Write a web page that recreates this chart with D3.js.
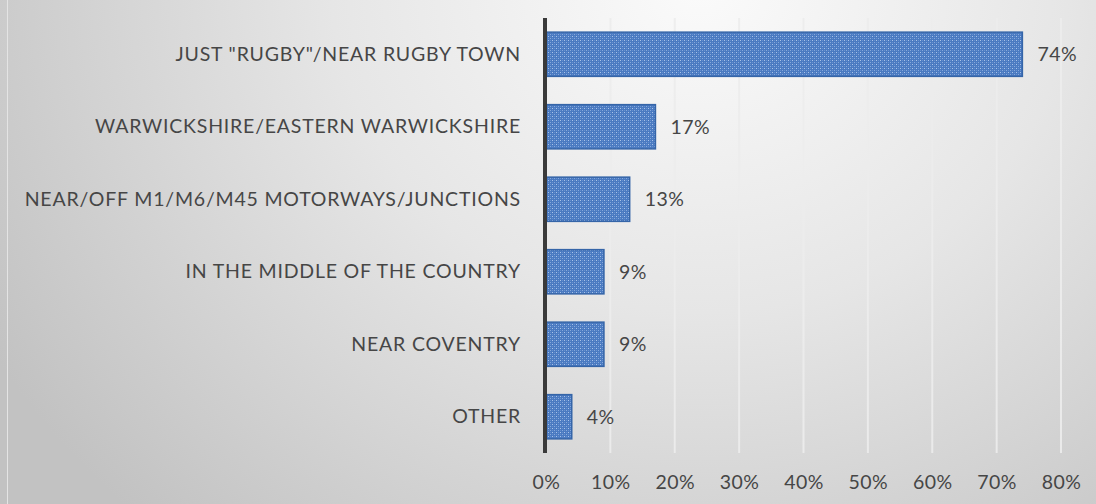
<!DOCTYPE html>
<html>
<head>
<meta charset="utf-8">
<script src="https://cdn.jsdelivr.net/npm/d3@7"></script>
<style>
  html, body { margin: 0; padding: 0; background: #fff; }
  svg { display: block; }
  text { font-family: Lato, "Open Sans", sans-serif; fill: #464646; }
</style>
</head>
<body>
<div id="chart"></div>
<script>
// Where people say the place is - horizontal bar chart

const categories = [
    'JUST "RUGBY"/NEAR RUGBY TOWN',
    "WARWICKSHIRE/EASTERN WARWICKSHIRE",
    "NEAR/OFF M1/M6/M45 MOTORWAYS/JUNCTIONS",
    "IN THE MIDDLE OF THE COUNTRY",
    "NEAR COVENTRY",
    "OTHER"
];
const values = [74, 17, 13, 9, 9, 4];
const xTicks = [0, 10, 20, 30, 40, 50, 60, 70, 80];

const width = 1096;
const height = 504;
const margin = { top: 18, right: 35, bottom: 51, left: 546 };
const fontFamily = 'Lato, "Open Sans", sans-serif';
const fontSize = 19.5;
const textColor = "#464646";

const svg = d3.select("#chart").append("svg")
    .attr("width", width).attr("height", height);

const defs = svg.append("defs");

// --- BACKGROUND GRADIENT ---
const bg = defs.append("radialGradient")
    .attr("id", "bg").attr("gradientUnits", "userSpaceOnUse")
    .attr("cx", 700).attr("cy", -20).attr("r", 820)
    .attr("gradientTransform", "translate(700,-20) scale(1,0.9) translate(-700,20)");
bg.append("stop").attr("offset", "0%").attr("stop-color", "#fbfbfb");
bg.append("stop").attr("offset", "45%").attr("stop-color", "#e6e6e6");
bg.append("stop").attr("offset", "100%").attr("stop-color", "#c2c2c2");

// --- BAR PATTERN (dotted grid like Excel pattern fill) ---
const pat = defs.append("pattern")
    .attr("id", "dots").attr("patternUnits", "userSpaceOnUse")
    .attr("width", 4).attr("height", 4);
pat.append("rect").attr("width", 4).attr("height", 4).attr("fill", "#4a7ac1");
pat.append("rect").attr("x", 0).attr("y", 0).attr("width", 1).attr("height", 1).attr("fill", "#a9c3e8");
pat.append("rect").attr("x", 2).attr("y", 2).attr("width", 1).attr("height", 1).attr("fill", "#86a9dc");
pat.append("rect").attr("x", 2).attr("y", 0).attr("width", 1).attr("height", 1).attr("fill", "#6690cf");
pat.append("rect").attr("x", 0).attr("y", 2).attr("width", 1).attr("height", 1).attr("fill", "#6690cf");

svg.append("rect").attr("width", width).attr("height", height).attr("fill", "url(#bg)");
svg.append("line")
    .attr("x1", 7.5).attr("x2", 7.5).attr("y1", 0).attr("y2", height)
    .attr("stroke", "#e4e4e4").attr("stroke-width", 1);

// --- SCALES ---
const x = d3.scaleLinear()
    .domain([0, 80])
    .range([margin.left, width - margin.right]);

const y = d3.scaleBand()
    .domain(categories)
    .range([margin.top, height - margin.bottom])
    .paddingInner(0.39).paddingOuter(0.195);

// --- GRIDLINES ---
svg.append("g").selectAll("line")
    .data(xTicks.filter(d => d > 0)).join("line")
    .attr("x1", d => x(d)).attr("x2", d => x(d))
    .attr("y1", margin.top).attr("y2", height - margin.bottom)
    .attr("stroke", "#ececec").attr("stroke-opacity", 0.9).attr("stroke-width", 2);

// --- BARS ---
svg.append("g").selectAll("rect")
    .data(values).join("rect")
    .attr("x", x(0))
    .attr("y", (d, i) => y(categories[i]))
    .attr("width", d => x(d) - x(0))
    .attr("height", y.bandwidth())
    .attr("fill", "url(#dots)")
    .attr("stroke", "#3565a8").attr("stroke-width", 1.5);

// --- DATA LABELS ---
svg.append("g").selectAll("text")
    .data(values).join("text")
    .attr("x", d => x(d) + 15)
    .attr("y", (d, i) => y(categories[i]) + y.bandwidth() / 2)
    .attr("dy", "0.35em")
    .attr("font-size", fontSize)
    .attr("letter-spacing", 0.5)
    .text(d => d + "%");

// --- Y AXIS (category labels) ---
const yAxis = svg.append("g")
    .attr("transform", `translate(${x(0)},0)`)
    .call(d3.axisLeft(y).tickSize(0).tickPadding(25));
yAxis.select(".domain").remove();
yAxis.selectAll("text")
    .attr("font-size", fontSize)
    .attr("letter-spacing", 0.8)
    .style("font-family", fontFamily)
    .attr("fill", textColor);

svg.append("line")
    .attr("x1", x(0) - 1).attr("x2", x(0) - 1)
    .attr("y1", margin.top).attr("y2", height - margin.bottom)
    .attr("stroke", "#3a3a3a").attr("stroke-width", 4);

// --- X AXIS ---
const xAxis = svg.append("g")
    .attr("transform", `translate(0,${height - margin.bottom})`)
    .call(d3.axisBottom(x).tickValues(xTicks).tickFormat(d => d + "%").tickSize(0).tickPadding(22));
xAxis.select(".domain").remove();
xAxis.selectAll("text")
    .attr("font-size", fontSize)
    .attr("letter-spacing", 0.5)
    .style("font-family", fontFamily)
    .attr("fill", textColor);
</script>
</body>
</html>
